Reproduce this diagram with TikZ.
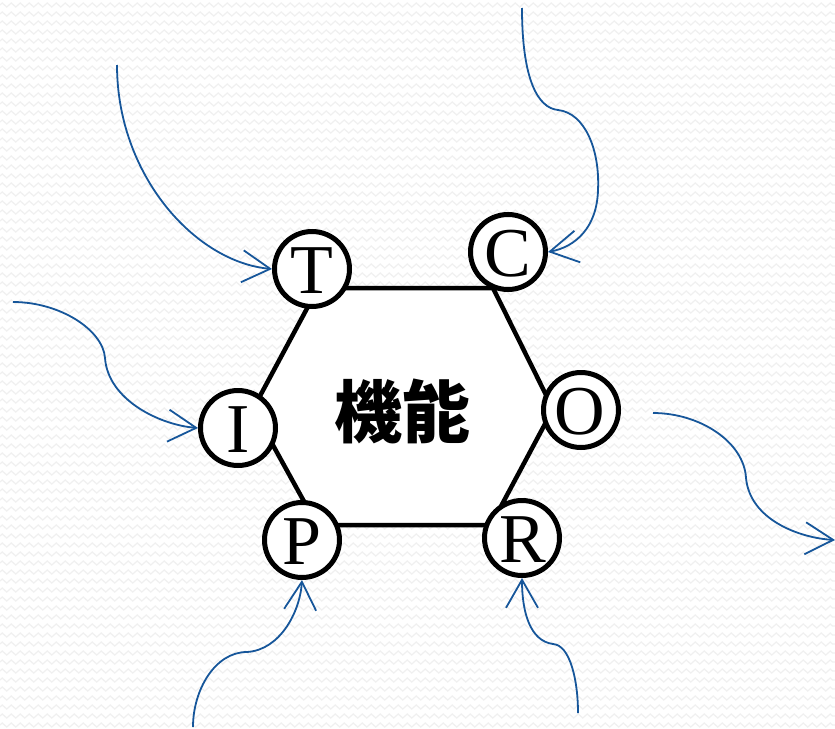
\documentclass[tikz,border=0pt]{standalone}
\usepackage{fontspec}
\setmainfont{Liberation Serif}
\newfontfamily\cjk{Noto Sans CJK JP}
\usetikzlibrary{arrows.meta,decorations.pathmorphing}
\definecolor{arrowblue}{RGB}{22,86,154}
\definecolor{bgzig}{RGB}{240,240,240}
\begin{document}
\begin{tikzpicture}[x=1pt,y=-1pt,
  bgline/.style={bgzig, line width=1.2pt, decorate, decoration={zigzag, segment length=9pt, amplitude=2pt}},
  hexbox/.style={draw=black, fill=white, line width=4.5pt, line join=miter},
  letterbox/.style={circle, draw=black, fill=white, line width=5pt, minimum size=75pt, inner sep=0pt},
  lettertext/.style={anchor=base, inner sep=0pt, font=\fontsize{70}{72}\selectfont},
  flow/.style={draw=arrowblue, line width=1.8pt, -{Straight Barb[length=28pt, width=32pt, line width=1.8pt]}}
]
\useasboundingbox (0,0) rectangle (835,728);
\fill[white] (0,0) rectangle (835,728);
\foreach \yy in {5,14,...,725} \draw[bgline] (0,\yy) -- (835,\yy);

% hexagon
\coordinate (h1) at (318,288);
\coordinate (h2) at (493,288);
\coordinate (h3) at (553,409);
\coordinate (h4) at (491,525);
\coordinate (h5) at (317,525);
\coordinate (h6) at (253,409);
\draw[hexbox] (h1) -- (h2) -- (h3) -- (h4) -- (h5) -- (h6) -- cycle;
\node[inner sep=0pt, font=\cjk\bfseries\fontsize{68}{70}\selectfont] (func) at (402,411) {機能};

% letter circles
\node[letterbox] (T) at (312,269) {};
\node[letterbox] (C) at (508,252) {};
\node[letterbox] (O) at (581,410) {};
\node[letterbox] (R) at (522,538) {};
\node[letterbox] (P) at (302,540) {};
\node[letterbox] (I) at (238,428) {};
\node[lettertext] (tT) at (312,293) {T};
\node[lettertext] (tC) at (508,276) {C};
\node[lettertext] (tO) at (580,434) {O};
\node[lettertext] (tR) at (523,562) {R};
\node[lettertext] (tP) at (302,564) {P};
\node[lettertext] (tI) at (238,452) {I};

% free ends
\coordinate (sT) at (117,65);
\coordinate (sC) at (522,8);
\coordinate (sI) at (13,302);
\coordinate (sO) at (653,413);
\coordinate (eO) at (835,540);
\coordinate (sP) at (193,727);
\coordinate (sR) at (578,713);

% arrows
\draw[flow] (sT) .. controls (117,175) and (195,262) .. (T.west);
\draw[flow] (sC) .. controls (522,80) and (538,108) .. (558,110)
  .. controls (585,113) and (600,150) .. (598,190)
  .. controls (597,228) and (575,247) .. (C.east);
\draw[flow] (sI) .. controls (60,302) and (103,330) .. (105,358)
  .. controls (108,400) and (160,425) .. (I.west);
\draw[flow] (sO) .. controls (700,413) and (744,442) .. (746,478)
  .. controls (750,520) and (800,538) .. (eO);
\draw[flow] (sP) .. controls (193,690) and (215,652) .. (247,652)
  .. controls (280,650) and (300,612) .. (P.south);
\draw[flow] (sR) .. controls (578,680) and (570,645) .. (553,644)
  .. controls (530,641) and (522,612) .. (R.south);
\end{tikzpicture}
\end{document}
